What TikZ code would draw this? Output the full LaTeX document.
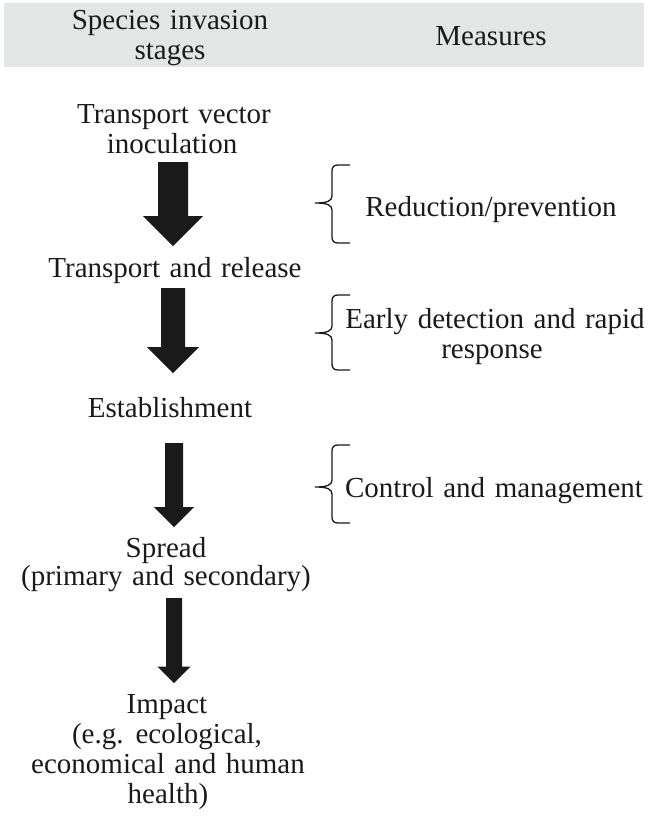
\documentclass[tikz,border=0pt]{standalone}
\usepackage{fontspec}
\setmainfont{Liberation Serif}
\usetikzlibrary{calc}
\definecolor{band}{RGB}{228,229,229}
\definecolor{ink}{RGB}{26,26,26}
\newcommand{\lblfont}{\fontsize{29}{30}\selectfont\spaceskip 0.33em plus 0.1em minus 0.05em\relax}
\newcommand{\blockarr}[4]{%
  \fill[ink] ($(#1)+(-#3,0)$) -- ($(#1)+(#3,0)$) -- ($(#2)+(#3,-#4)$) -- ($(#2)+(#4,-#4)$) -- (#2) -- ($(#2)+(-#4,-#4)$) -- ($(#2)+(-#3,-#4)$) -- cycle;}
\newcommand{\bracemark}[3]{%
  \draw[bracepath] (350,#1) -- (338,#1) .. controls (334,#1) and (332,#1+2) .. (332,#1+6) -- (332,#2-7) .. controls (332,#2-2) and (327,#2) .. (315,#2) .. controls (327,#2) and (332,#2+2) .. (332,#2+7) -- (332,#3-6) .. controls (332,#3-2) and (334,#3) .. (338,#3) -- (350,#3);}
\begin{document}
\begin{tikzpicture}[x=1pt,y=-1pt,
  lbl/.style={font=\lblfont, inner sep=0pt, anchor=base, text=ink},
  bracepath/.style={draw=ink, line width=1.3pt}]
\useasboundingbox (0,0) rectangle (648,817);
\fill[band] (4,3) rectangle (644,67);
% header
\node[lbl] (h1a) at (170,29) {Species invasion};
\node[lbl] (h1b) at (170,59) {stages};
\node[lbl] (h2) at (491,45) {Measures};
% stages
\node[lbl] (s1a) at (174,123) {Transport vector};
\node[lbl] (s1b) at (172,153) {inoculation};
\node[lbl] (s2) at (175,277) {Transport and release};
\node[lbl] (s3) at (170,417) {Establishment};
\node[lbl] (s4a) at (166,557) {Spread};
\node[lbl] (s4b) at (166,585) {(primary and secondary)};
\node[lbl] (s5a) at (167,713) {Impact};
\node[lbl] (s5b) at (167,743) {(e.g. ecological,};
\node[lbl] (s5c) at (168,773) {economical and human};
\node[lbl] (s5d) at (168,803) {health)};
% arrows
\coordinate (a1s) at (173,162); \coordinate (a1e) at (173,246);
\coordinate (a2s) at (173,288); \coordinate (a2e) at (173,373);
\coordinate (a3s) at (174,443); \coordinate (a3e) at (174,527);
\coordinate (a4s) at (174,598); \coordinate (a4e) at (174,683);
\blockarr{a1s}{a1e}{15}{30}
\blockarr{a2s}{a2e}{12}{26}
\blockarr{a3s}{a3e}{9}{20}
\blockarr{a4s}{a4e}{8}{16.5}
% measures
\bracemark{165}{203}{243}
\bracemark{295}{333}{370}
\bracemark{445}{487}{523}
\node[lbl] (m1) at (491,216) {Reduction/prevention};
\node[lbl] (m2a) at (495,328) {Early detection and rapid};
\node[lbl] (m2b) at (492,358) {response};
\node[lbl] (m3) at (494,497) {Control and management};
\end{tikzpicture}
\end{document}
